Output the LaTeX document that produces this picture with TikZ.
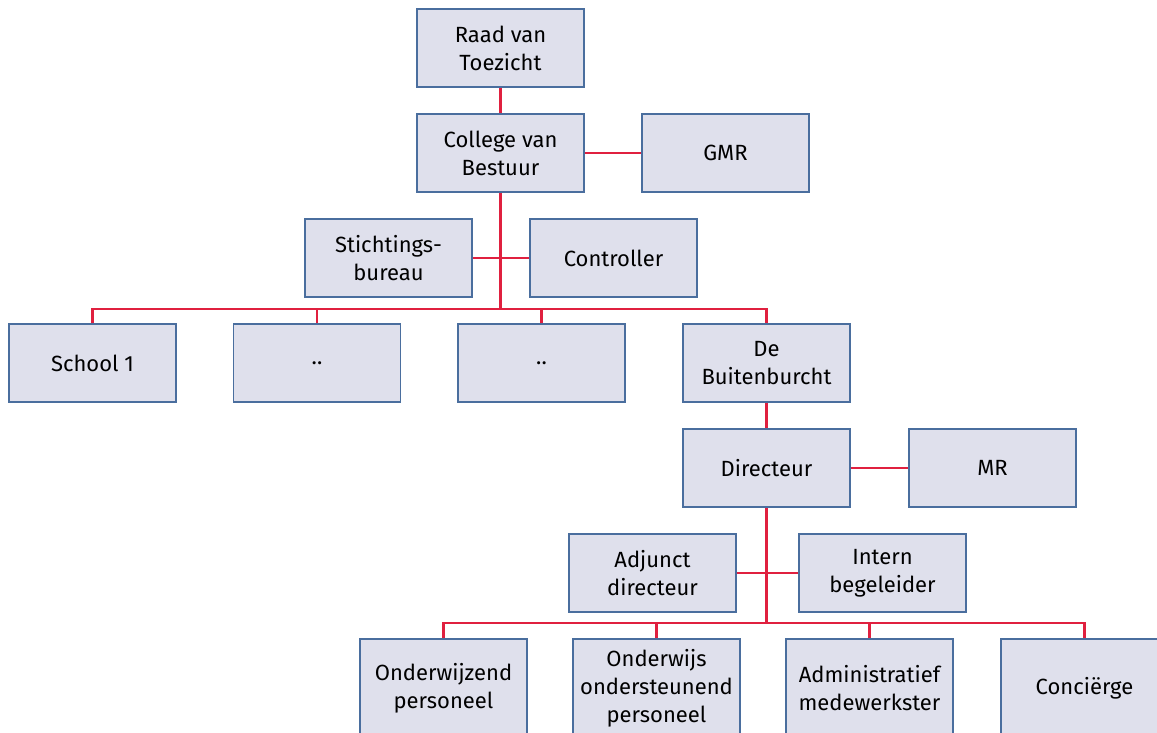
\documentclass[tikz,border=0pt]{standalone}
\usepackage{fontspec}
\setmainfont{Fira Sans}
\definecolor{boxfill}{HTML}{DFE0EC}
\definecolor{boxline}{HTML}{4A6E9E}
\definecolor{conn}{HTML}{E0203F}
\begin{document}
\begin{tikzpicture}[x=1pt,y=-1pt,
  orgbox/.style={draw=boxline, fill=boxfill, line width=1.5pt, rectangle,
    minimum width=167pt, minimum height=78pt, inner sep=0pt, align=center,
    font=\fontsize{22}{28}\selectfont},
  tallbox/.style={orgbox, minimum height=98pt},
  link/.style={draw=conn, line width=2.3pt}]
\useasboundingbox (0,0) rectangle (1157,733);
\fill[white] (0,0) rectangle (1157,733);
% bus coordinates
\coordinate (bus1) at (500.5,309);
\coordinate (bus2) at (766.5,623);
% nodes
\node[orgbox] (raad) at (500.5,48) {Raad van\\Toezicht};
\node[orgbox] (college) at (500.5,153) {College van\\Bestuur};
\node[orgbox] (gmr) at (725.5,153) {GMR};
\node[orgbox] (stich) at (388.5,258) {Stichtings-\\bureau};
\node[orgbox] (contr) at (613.5,258) {Controller};
\node[orgbox] (s1) at (92.5,363) {School 1};
\node[orgbox] (d1) at (317,363) {..};
\node[orgbox] (d2) at (541.5,363) {..};
\node[orgbox] (buit) at (766.5,363) {De\\Buitenburcht};
\node[orgbox] (dir) at (766.5,468) {Directeur};
\node[orgbox] (mr) at (992.5,468) {MR};
\node[orgbox] (adj) at (652.5,573) {Adjunct\\directeur};
\node[orgbox] (intern) at (882.5,573) {Intern\\begeleider};
\node[tallbox] (b1) at (443.5,688) {Onderwijzend\\personeel};
\node[tallbox] (b2) at (656.5,688) {Onderwijs\\ondersteunend\\personeel};
\node[tallbox] (b3) at (869.5,688) {Administratief\\medewerkster};
\node[tallbox] (b4) at (1084.5,688) {Conciërge};
% connectors
\begin{scope}[on background layer/.style={}]
\draw[link] (raad.south) -- (college.north);
\draw[link] (college.east) -- (gmr.west);
\draw[link] (college.south) -- (bus1);
\draw[link] (stich.east) -- (contr.west);
\draw[link] (s1.north) |- (bus1) -| (buit.north);
\draw[link] (d1.north) -- (d1.north |- bus1);
\draw[link] (d2.north) -- (d2.north |- bus1);
\draw[link] (buit.south) -- (dir.north);
\draw[link] (dir.east) -- (mr.west);
\draw[link] (dir.south) -- (bus2);
\draw[link] (adj.east) -- (intern.west);
\draw[link] (b1.north) |- (bus2) -| (b4.north);
\draw[link] (b2.north) -- (b2.north |- bus2);
\draw[link] (b3.north) -- (b3.north |- bus2);
\end{scope}
\end{tikzpicture}
\end{document}
